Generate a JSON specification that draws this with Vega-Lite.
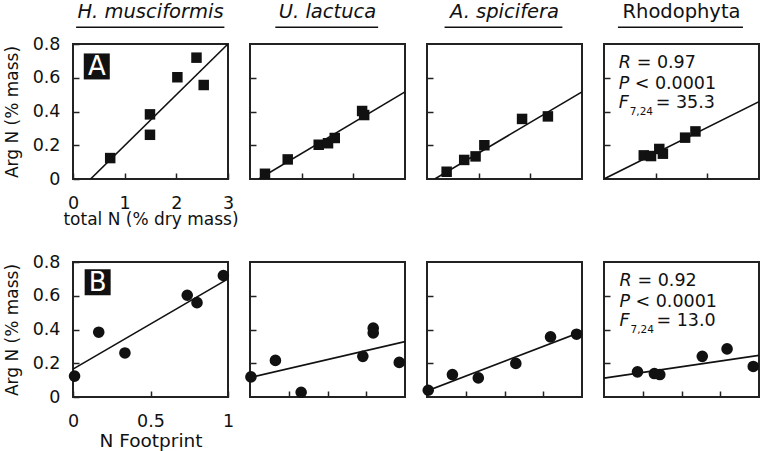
{
  "$schema": "https://vega.github.io/schema/vega-lite/v6.json",
  "background": "white",
  "padding": {"left": 2, "top": 1, "right": 0, "bottom": 0},
  "config": {
    "font": "DejaVu Sans",
    "view": {"stroke": "#222", "strokeWidth": 2},
    "axis": {"grid": false, "domain": false, "tickColor": "#222", "tickWidth": 1.5, "tickSize": -6, "labelPadding": 19.5, "labelFontSize": 17.5, "labelColor": "#111", "labelFlush": false, "titleFontSize": 17, "titleFontWeight": "normal", "titleColor": "#111", "titlePadding": 0, "labelFont": "DejaVu Sans", "titleFont": "DejaVu Sans"},
    "text": {"color": "#111", "font": "DejaVu Sans"}
  },
  "datasets": {
    "pts": [
      {"p": "A1", "x": 0.72, "y": 0.124}, {"p": "A1", "x": 1.49, "y": 0.383}, {"p": "A1", "x": 1.49, "y": 0.262}, {"p": "A1", "x": 2.02, "y": 0.603}, {"p": "A1", "x": 2.39, "y": 0.719}, {"p": "A1", "x": 2.53, "y": 0.557},
      {"p": "A2", "x": 0.29, "y": 0.031}, {"p": "A2", "x": 0.73, "y": 0.116}, {"p": "A2", "x": 1.33, "y": 0.203}, {"p": "A2", "x": 1.51, "y": 0.212}, {"p": "A2", "x": 1.64, "y": 0.243}, {"p": "A2", "x": 2.17, "y": 0.403}, {"p": "A2", "x": 2.21, "y": 0.379},
      {"p": "A3", "x": 0.38, "y": 0.043}, {"p": "A3", "x": 0.72, "y": 0.113}, {"p": "A3", "x": 0.94, "y": 0.134}, {"p": "A3", "x": 1.11, "y": 0.2}, {"p": "A3", "x": 1.84, "y": 0.356}, {"p": "A3", "x": 2.34, "y": 0.371},
      {"p": "A4", "x": 0.77, "y": 0.14}, {"p": "A4", "x": 0.91, "y": 0.136}, {"p": "A4", "x": 1.07, "y": 0.178}, {"p": "A4", "x": 1.14, "y": 0.15}, {"p": "A4", "x": 1.57, "y": 0.245}, {"p": "A4", "x": 1.77, "y": 0.282},
      {"p": "B1", "x": 0.01, "y": 0.124}, {"p": "B1", "x": 0.166, "y": 0.384}, {"p": "B1", "x": 0.335, "y": 0.261}, {"p": "B1", "x": 0.737, "y": 0.603}, {"p": "B1", "x": 0.8, "y": 0.559}, {"p": "B1", "x": 0.97, "y": 0.72},
      {"p": "B2", "x": 0.006, "y": 0.119}, {"p": "B2", "x": 0.164, "y": 0.217}, {"p": "B2", "x": 0.33, "y": 0.028}, {"p": "B2", "x": 0.728, "y": 0.241}, {"p": "B2", "x": 0.795, "y": 0.408}, {"p": "B2", "x": 0.795, "y": 0.38}, {"p": "B2", "x": 0.963, "y": 0.205},
      {"p": "B3", "x": 0.008, "y": 0.04}, {"p": "B3", "x": 0.164, "y": 0.133}, {"p": "B3", "x": 0.331, "y": 0.113}, {"p": "B3", "x": 0.573, "y": 0.199}, {"p": "B3", "x": 0.797, "y": 0.356}, {"p": "B3", "x": 0.965, "y": 0.372},
      {"p": "B4", "x": 0.216, "y": 0.149}, {"p": "B4", "x": 0.325, "y": 0.139}, {"p": "B4", "x": 0.36, "y": 0.133}, {"p": "B4", "x": 0.634, "y": 0.241}, {"p": "B4", "x": 0.794, "y": 0.285}, {"p": "B4", "x": 0.963, "y": 0.181}
    ],
    "lines": [
      {"p": "A1", "x": 0.34, "y": 0}, {"p": "A1", "x": 3, "y": 0.8},
      {"p": "A2", "x": 0.17, "y": 0}, {"p": "A2", "x": 3, "y": 0.516},
      {"p": "A3", "x": 0.15, "y": 0}, {"p": "A3", "x": 3, "y": 0.516},
      {"p": "A4", "x": 0, "y": 0}, {"p": "A4", "x": 3, "y": 0.458},
      {"p": "B1", "x": 0, "y": 0.165}, {"p": "B1", "x": 1, "y": 0.7},
      {"p": "B2", "x": 0, "y": 0.115}, {"p": "B2", "x": 1, "y": 0.328},
      {"p": "B3", "x": 0, "y": 0.036}, {"p": "B3", "x": 1, "y": 0.388},
      {"p": "B4", "x": 0, "y": 0.112}, {"p": "B4", "x": 1, "y": 0.247}
    ],
    "stats": [
      {"p": "A4", "R": "= 0.97", "P": "< 0.0001", "F": "= 35.3"},
      {"p": "B4", "R": "= 0.92", "P": "< 0.0001", "F": "= 13.0"}
    ]
  },
  "bounds": "flush",
  "spacing": 218,
  "vconcat": [
    {
      "bounds": "flush",
      "spacing": 22,
      "hconcat": [
        {
          "width": 155, "height": 135,
          "layer": [
            {"data": {"name": "lines"}, "transform": [{"filter": "datum.p == 'A1'"}],
             "mark": {"type": "line", "color": "#111", "strokeWidth": 1.6, "clip": true},
             "encoding": {
               "x": {"field": "x", "type": "quantitative", "scale": {"domain": [0, 3], "nice": false}, "axis": {"values": [0, 1, 2, 3], "format": "d", "title": "total N (% dry mass)", "labelPadding": 21.5, "titlePadding": -1}},
               "y": {"field": "y", "type": "quantitative", "scale": {"domain": [0, 0.8], "nice": false}, "axis": {"tickCount": 4, "labelExpr": "datum.value == 0 ? '0' : format(datum.value, '.1f')", "title": "Arg N (% mass)", "titlePadding": 10.5, "labelPadding": 19, "labelOverlap": false}}}},
            {"data": {"name": "pts"}, "transform": [{"filter": "datum.p == 'A1'"}],
             "mark": {"type": "point", "shape": "square", "filled": true, "size": 110, "color": "#111", "opacity": 1},
             "encoding": {"x": {"field": "x", "type": "quantitative"}, "y": {"field": "y", "type": "quantitative"}}},
            {"data": {"values": [{}]}, "mark": {"type": "text", "fontSize": 19.5, "fontStyle": "italic", "baseline": "alphabetic", "align": "center"},
             "encoding": {"x": {"datum": 1.5}, "y": {"datum": 0.954}, "text": {"value": "H. musciformis"}}},
            {"data": {"values": [{}]}, "mark": {"type": "rule", "strokeWidth": 1.5, "color": "#111"},
             "encoding": {"x": {"datum": 0.06}, "x2": {"datum": 2.93}, "y": {"datum": 0.9}}},
            {"data": {"values": [{}]}, "mark": {"type": "point", "shape": "square", "filled": true, "size": 676, "color": "#111", "opacity": 1},
             "encoding": {"x": {"datum": 0.46}, "y": {"datum": 0.667}}},
            {"data": {"values": [{}]}, "mark": {"type": "text", "fontSize": 26, "color": "white", "baseline": "middle", "align": "center", "dy": 1},
             "encoding": {"x": {"datum": 0.46}, "y": {"datum": 0.667}, "text": {"value": "A"}}}
          ]
        },
        {
          "width": 155, "height": 135,
          "layer": [
            {"data": {"name": "lines"}, "transform": [{"filter": "datum.p == 'A2'"}],
             "mark": {"type": "line", "color": "#111", "strokeWidth": 1.6, "clip": true},
             "encoding": {
               "x": {"field": "x", "type": "quantitative", "scale": {"domain": [0, 3], "nice": false}, "axis": {"values": [1, 2], "labels": false, "title": null}},
               "y": {"field": "y", "type": "quantitative", "scale": {"domain": [0, 0.8], "nice": false}, "axis": {"values": [0.2, 0.4, 0.6], "labels": false, "title": null}}}},
            {"data": {"name": "pts"}, "transform": [{"filter": "datum.p == 'A2'"}],
             "mark": {"type": "point", "shape": "square", "filled": true, "size": 110, "color": "#111", "opacity": 1},
             "encoding": {"x": {"field": "x", "type": "quantitative"}, "y": {"field": "y", "type": "quantitative"}}},
            {"data": {"values": [{}]}, "mark": {"type": "text", "fontSize": 19.5, "fontStyle": "italic", "baseline": "alphabetic", "align": "center"},
             "encoding": {"x": {"datum": 1.5}, "y": {"datum": 0.954}, "text": {"value": "U. lactuca"}}},
            {"data": {"values": [{}]}, "mark": {"type": "rule", "strokeWidth": 1.5, "color": "#111"},
             "encoding": {"x": {"datum": 0.49}, "x2": {"datum": 2.48}, "y": {"datum": 0.9}}}
          ]
        },
        {
          "width": 155, "height": 135,
          "layer": [
            {"data": {"name": "lines"}, "transform": [{"filter": "datum.p == 'A3'"}],
             "mark": {"type": "line", "color": "#111", "strokeWidth": 1.6, "clip": true},
             "encoding": {
               "x": {"field": "x", "type": "quantitative", "scale": {"domain": [0, 3], "nice": false}, "axis": {"values": [1, 2], "labels": false, "title": null}},
               "y": {"field": "y", "type": "quantitative", "scale": {"domain": [0, 0.8], "nice": false}, "axis": {"values": [0.2, 0.4, 0.6], "labels": false, "title": null}}}},
            {"data": {"name": "pts"}, "transform": [{"filter": "datum.p == 'A3'"}],
             "mark": {"type": "point", "shape": "square", "filled": true, "size": 110, "color": "#111", "opacity": 1},
             "encoding": {"x": {"field": "x", "type": "quantitative"}, "y": {"field": "y", "type": "quantitative"}}},
            {"data": {"values": [{}]}, "mark": {"type": "text", "fontSize": 19.5, "fontStyle": "italic", "baseline": "alphabetic", "align": "center"},
             "encoding": {"x": {"datum": 1.5}, "y": {"datum": 0.954}, "text": {"value": "A. spicifera"}}},
            {"data": {"values": [{}]}, "mark": {"type": "rule", "strokeWidth": 1.5, "color": "#111"},
             "encoding": {"x": {"datum": 0.34}, "x2": {"datum": 2.62}, "y": {"datum": 0.9}}}
          ]
        },
        {
          "width": 155, "height": 135,
          "layer": [
            {"data": {"name": "lines"}, "transform": [{"filter": "datum.p == 'A4'"}],
             "mark": {"type": "line", "color": "#111", "strokeWidth": 1.6, "clip": true},
             "encoding": {
               "x": {"field": "x", "type": "quantitative", "scale": {"domain": [0, 3], "nice": false}, "axis": {"values": [1, 2], "labels": false, "title": null}},
               "y": {"field": "y", "type": "quantitative", "scale": {"domain": [0, 0.8], "nice": false}, "axis": {"values": [0.2, 0.4, 0.6], "labels": false, "title": null}}}},
            {"data": {"name": "pts"}, "transform": [{"filter": "datum.p == 'A4'"}],
             "mark": {"type": "point", "shape": "square", "filled": true, "size": 110, "color": "#111", "opacity": 1},
             "encoding": {"x": {"field": "x", "type": "quantitative"}, "y": {"field": "y", "type": "quantitative"}}},
            {"data": {"values": [{}]}, "mark": {"type": "text", "fontSize": 19.5, "baseline": "alphabetic", "align": "center"},
             "encoding": {"x": {"datum": 1.5}, "y": {"datum": 0.954}, "text": {"value": "Rhodophyta"}}},
            {"data": {"values": [{}]}, "mark": {"type": "rule", "strokeWidth": 1.5, "color": "#111"},
             "encoding": {"x": {"datum": 0.27}, "x2": {"datum": 2.69}, "y": {"datum": 0.9}}},
            {"data": {"name": "stats"}, "transform": [{"filter": "datum.p == 'A4'"}], "mark": {"type": "text", "fontSize": 17.5, "fontStyle": "italic", "baseline": "alphabetic", "align": "left"},
             "encoding": {"x": {"datum": 0.284}, "y": {"datum": 0.656}, "text": {"value": "R"}}},
            {"data": {"name": "stats"}, "transform": [{"filter": "datum.p == 'A4'"}], "mark": {"type": "text", "fontSize": 17.5, "baseline": "alphabetic", "align": "left", "dx": 18},
             "encoding": {"x": {"datum": 0.284}, "y": {"datum": 0.656}, "text": {"field": "R"}}},
            {"data": {"name": "stats"}, "transform": [{"filter": "datum.p == 'A4'"}], "mark": {"type": "text", "fontSize": 17.5, "fontStyle": "italic", "baseline": "alphabetic", "align": "left"},
             "encoding": {"x": {"datum": 0.284}, "y": {"datum": 0.532}, "text": {"value": "P"}}},
            {"data": {"name": "stats"}, "transform": [{"filter": "datum.p == 'A4'"}], "mark": {"type": "text", "fontSize": 17.5, "baseline": "alphabetic", "align": "left", "dx": 16},
             "encoding": {"x": {"datum": 0.284}, "y": {"datum": 0.532}, "text": {"field": "P"}}},
            {"data": {"name": "stats"}, "transform": [{"filter": "datum.p == 'A4'"}], "mark": {"type": "text", "fontSize": 17.5, "fontStyle": "italic", "baseline": "alphabetic", "align": "left"},
             "encoding": {"x": {"datum": 0.284}, "y": {"datum": 0.419}, "text": {"value": "F"}}},
            {"data": {"name": "stats"}, "transform": [{"filter": "datum.p == 'A4'"}], "mark": {"type": "text", "fontSize": 10.5, "baseline": "alphabetic", "align": "left", "dx": 11},
             "encoding": {"x": {"datum": 0.284}, "y": {"datum": 0.379}, "text": {"value": "7,24"}}},
            {"data": {"name": "stats"}, "transform": [{"filter": "datum.p == 'A4'"}], "mark": {"type": "text", "fontSize": 17.5, "baseline": "alphabetic", "align": "left", "dx": 37},
             "encoding": {"x": {"datum": 0.284}, "y": {"datum": 0.419}, "text": {"field": "F"}}}
          ]
        }
      ]
    },
    {
      "bounds": "flush",
      "spacing": 22,
      "hconcat": [
        {
          "width": 155, "height": 135,
          "layer": [
            {"data": {"name": "lines"}, "transform": [{"filter": "datum.p == 'B1'"}],
             "mark": {"type": "line", "color": "#111", "strokeWidth": 1.6, "clip": true},
             "encoding": {
               "x": {"field": "x", "type": "quantitative", "scale": {"domain": [0, 1], "nice": false}, "axis": {"values": [0, 0.25, 0.5, 0.75, 1], "labelExpr": "datum.value == 0 ? '0' : datum.value == 1 ? '1' : datum.value == 0.5 ? '0.5' : ''", "title": "N Footprint", "titleFontSize": 18.5, "labelPadding": 21.5, "titlePadding": 1}},
               "y": {"field": "y", "type": "quantitative", "scale": {"domain": [0, 0.8], "nice": false}, "axis": {"tickCount": 4, "labelExpr": "datum.value == 0 ? '0' : format(datum.value, '.1f')", "title": "Arg N (% mass)", "titlePadding": 10.5, "labelPadding": 19, "labelOverlap": false}}}},
            {"data": {"name": "pts"}, "transform": [{"filter": "datum.p == 'B1'"}],
             "mark": {"type": "point", "shape": "circle", "filled": true, "size": 135, "color": "#111", "opacity": 1},
             "encoding": {"x": {"field": "x", "type": "quantitative"}, "y": {"field": "y", "type": "quantitative"}}},
            {"data": {"values": [{}]}, "mark": {"type": "point", "shape": "square", "filled": true, "size": 676, "color": "#111", "opacity": 1},
             "encoding": {"x": {"datum": 0.159}, "y": {"datum": 0.68}}},
            {"data": {"values": [{}]}, "mark": {"type": "text", "fontSize": 26, "color": "white", "baseline": "middle", "align": "center", "dy": 1},
             "encoding": {"x": {"datum": 0.159}, "y": {"datum": 0.68}, "text": {"value": "B"}}}
          ]
        },
        {
          "width": 155, "height": 135,
          "layer": [
            {"data": {"name": "lines"}, "transform": [{"filter": "datum.p == 'B2'"}],
             "mark": {"type": "line", "color": "#111", "strokeWidth": 1.6, "clip": true},
             "encoding": {
               "x": {"field": "x", "type": "quantitative", "scale": {"domain": [0, 1], "nice": false}, "axis": {"values": [0.25, 0.5, 0.75], "labels": false, "title": null}},
               "y": {"field": "y", "type": "quantitative", "scale": {"domain": [0, 0.8], "nice": false}, "axis": {"values": [0.2, 0.4, 0.6], "labels": false, "title": null}}}},
            {"data": {"name": "pts"}, "transform": [{"filter": "datum.p == 'B2'"}],
             "mark": {"type": "point", "shape": "circle", "filled": true, "size": 135, "color": "#111", "opacity": 1},
             "encoding": {"x": {"field": "x", "type": "quantitative"}, "y": {"field": "y", "type": "quantitative"}}}
          ]
        },
        {
          "width": 155, "height": 135,
          "layer": [
            {"data": {"name": "lines"}, "transform": [{"filter": "datum.p == 'B3'"}],
             "mark": {"type": "line", "color": "#111", "strokeWidth": 1.6, "clip": true},
             "encoding": {
               "x": {"field": "x", "type": "quantitative", "scale": {"domain": [0, 1], "nice": false}, "axis": {"values": [0.25, 0.5, 0.75], "labels": false, "title": null}},
               "y": {"field": "y", "type": "quantitative", "scale": {"domain": [0, 0.8], "nice": false}, "axis": {"values": [0.2, 0.4, 0.6], "labels": false, "title": null}}}},
            {"data": {"name": "pts"}, "transform": [{"filter": "datum.p == 'B3'"}],
             "mark": {"type": "point", "shape": "circle", "filled": true, "size": 135, "color": "#111", "opacity": 1},
             "encoding": {"x": {"field": "x", "type": "quantitative"}, "y": {"field": "y", "type": "quantitative"}}}
          ]
        },
        {
          "width": 155, "height": 135,
          "layer": [
            {"data": {"name": "lines"}, "transform": [{"filter": "datum.p == 'B4'"}],
             "mark": {"type": "line", "color": "#111", "strokeWidth": 1.6, "clip": true},
             "encoding": {
               "x": {"field": "x", "type": "quantitative", "scale": {"domain": [0, 1], "nice": false}, "axis": {"values": [0.25, 0.5, 0.75], "labels": false, "title": null}},
               "y": {"field": "y", "type": "quantitative", "scale": {"domain": [0, 0.8], "nice": false}, "axis": {"values": [0.2, 0.4, 0.6], "labels": false, "title": null}}}},
            {"data": {"name": "pts"}, "transform": [{"filter": "datum.p == 'B4'"}],
             "mark": {"type": "point", "shape": "circle", "filled": true, "size": 135, "color": "#111", "opacity": 1},
             "encoding": {"x": {"field": "x", "type": "quantitative"}, "y": {"field": "y", "type": "quantitative"}}},
            {"data": {"name": "stats"}, "transform": [{"filter": "datum.p == 'B4'"}], "mark": {"type": "text", "fontSize": 17.5, "fontStyle": "italic", "baseline": "alphabetic", "align": "left"},
             "encoding": {"x": {"datum": 0.1}, "y": {"datum": 0.656}, "text": {"value": "R"}}},
            {"data": {"name": "stats"}, "transform": [{"filter": "datum.p == 'B4'"}], "mark": {"type": "text", "fontSize": 17.5, "baseline": "alphabetic", "align": "left", "dx": 18},
             "encoding": {"x": {"datum": 0.1}, "y": {"datum": 0.656}, "text": {"field": "R"}}},
            {"data": {"name": "stats"}, "transform": [{"filter": "datum.p == 'B4'"}], "mark": {"type": "text", "fontSize": 17.5, "fontStyle": "italic", "baseline": "alphabetic", "align": "left"},
             "encoding": {"x": {"datum": 0.1}, "y": {"datum": 0.532}, "text": {"value": "P"}}},
            {"data": {"name": "stats"}, "transform": [{"filter": "datum.p == 'B4'"}], "mark": {"type": "text", "fontSize": 17.5, "baseline": "alphabetic", "align": "left", "dx": 16},
             "encoding": {"x": {"datum": 0.1}, "y": {"datum": 0.532}, "text": {"field": "P"}}},
            {"data": {"name": "stats"}, "transform": [{"filter": "datum.p == 'B4'"}], "mark": {"type": "text", "fontSize": 17.5, "fontStyle": "italic", "baseline": "alphabetic", "align": "left"},
             "encoding": {"x": {"datum": 0.1}, "y": {"datum": 0.419}, "text": {"value": "F"}}},
            {"data": {"name": "stats"}, "transform": [{"filter": "datum.p == 'B4'"}], "mark": {"type": "text", "fontSize": 10.5, "baseline": "alphabetic", "align": "left", "dx": 11},
             "encoding": {"x": {"datum": 0.1}, "y": {"datum": 0.379}, "text": {"value": "7,24"}}},
            {"data": {"name": "stats"}, "transform": [{"filter": "datum.p == 'B4'"}], "mark": {"type": "text", "fontSize": 17.5, "baseline": "alphabetic", "align": "left", "dx": 37},
             "encoding": {"x": {"datum": 0.1}, "y": {"datum": 0.419}, "text": {"field": "F"}}}
          ]
        }
      ]
    }
  ]
}
